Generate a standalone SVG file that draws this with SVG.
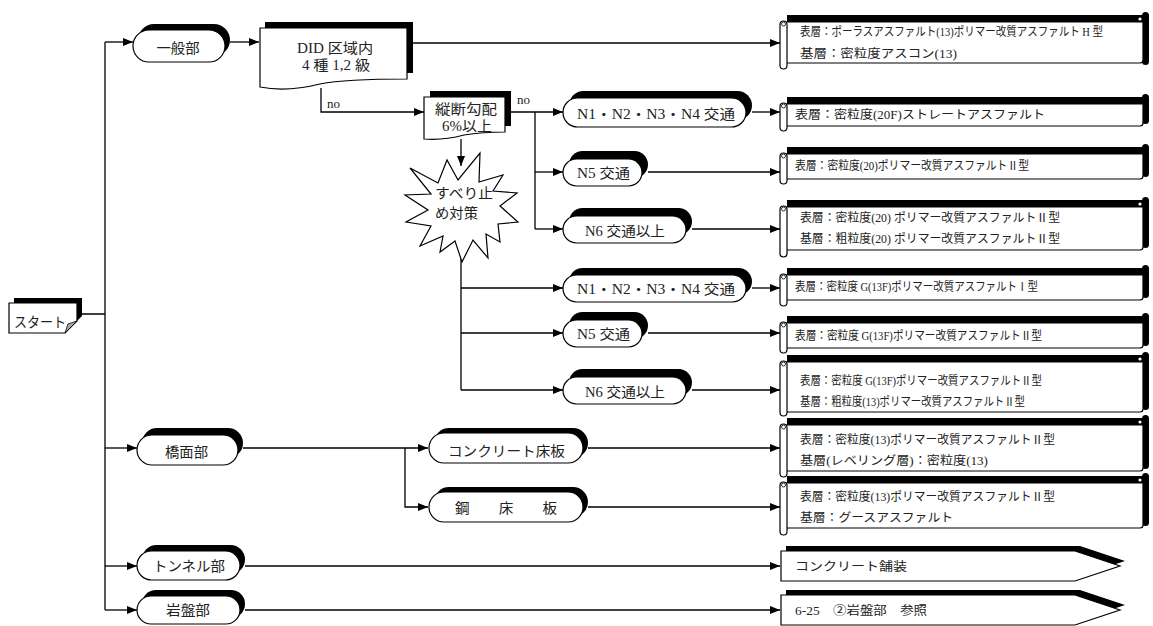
<svg xmlns="http://www.w3.org/2000/svg" width="1153" height="626" viewBox="0 0 1153 626">
<style>
.t{font-family:"Liberation Serif","Noto Sans CJK JP",serif;fill:#222}
.s12{font-size:12px}
.s13{font-size:13px}
.s14{font-size:14px}
.c{text-anchor:middle}
.ln{stroke:#000;stroke-width:1.3;fill:none}
.ar{marker-end:url(#ah)}
.sh{fill:#000}
.fr{fill:#fff;stroke:#000;stroke-width:1.2}
.cu{fill:none;stroke:#000;stroke-width:0.8}
</style>
<defs>
<marker id="ah" markerUnits="userSpaceOnUse" viewBox="0 0 10 8" markerWidth="10" markerHeight="8" refX="10" refY="4" orient="auto"><path d="M0,0 L10,4 L0,8 Z" fill="#000"/></marker>
</defs>
<rect width="1153" height="626" fill="#fff"/>

<g id="connectors">
<path class="ln" d="M82,314 H105 M105,42 V610"/>
<path class="ln ar" d="M105,42 H133"/>
<path class="ln ar" d="M105,448 H137"/>
<path class="ln ar" d="M105,566 H137"/>
<path class="ln ar" d="M105,610 H137"/>
<path class="ln ar" d="M230,42 H259"/>
<path class="ln ar" d="M412,43 H780"/>
<path class="ln ar" d="M321,88 V112 H424"/>
<path class="ln ar" d="M510,112 H563"/>
<path class="ln" d="M535,112 V229"/>
<path class="ln ar" d="M535,172 H563"/>
<path class="ln ar" d="M535,229 H563"/>
<path class="ln ar" d="M461,139 V166"/>
<path class="ln" d="M461,252 V390"/>
<path class="ln ar" d="M461,288 H563"/>
<path class="ln ar" d="M461,333 H563"/>
<path class="ln ar" d="M461,390 H563"/>
<path class="ln ar" d="M752,112 H780"/>
<path class="ln ar" d="M648,172 H780"/>
<path class="ln ar" d="M692,229 H780"/>
<path class="ln ar" d="M752,288 H780"/>
<path class="ln ar" d="M648,333 H780"/>
<path class="ln ar" d="M692,390 H780"/>
<path class="ln ar" d="M243,448 H428"/>
<path class="ln ar" d="M405,448 V507 H428"/>
<path class="ln ar" d="M588,448 H780"/>
<path class="ln ar" d="M588,507 H780"/>
<path class="ln ar" d="M245,566 H780"/>
<path class="ln ar" d="M245,610 H780"/>
<text class="t s13" x="327" y="108">no</text>
<text class="t s13" x="517" y="104">no</text>
</g>

<g id="start">
<path class="sh" d="M14,298 H82 V316 L70,328 H14 Z"/>
<path class="fr" d="M9,303 H77 V321 L65,333 H9 Z"/>
<path d="M77,321 L65,333 L68,324 Z" fill="#aaa" stroke="#000" stroke-width="0.8"/>
<text class="t s14" x="14" y="327" textLength="52" lengthAdjust="spacingAndGlyphs">スタート</text>
</g>

<g id="ippanbu">
<rect class="sh" x="138" y="24" width="92" height="32" rx="16"/>
<rect class="fr" x="133" y="30" width="92" height="32" rx="16"/>
<text class="t s14 c" x="178" y="53" textLength="43" lengthAdjust="spacingAndGlyphs">一般部</text>
</g>

<g id="did">
<path class="sh" d="M265,22 H413 V73 C375,73 345,74 325,78 C305,83 285,85 265,81 Z"/>
<path class="fr" d="M260,28 H407 V79 C370,79 340,80 320,84 C300,89 280,91 260,87 Z"/>
<text class="t s14 c" x="335" y="53" textLength="76" lengthAdjust="spacingAndGlyphs">DID 区域内</text>
<text class="t s14 c" x="336" y="70" textLength="68" lengthAdjust="spacingAndGlyphs">4 種 1,2 級</text>
</g>

<g id="jyudan">
<path class="sh" d="M430,91 H511 V126 C495,126 482,127 470,129 C455,133 442,134 430,133 Z"/>
<path class="fr" d="M424,97 H505 V132 C489,132 476,133 464,135 C449,139 436,140 424,139 Z"/>
<text class="t s14 c" x="466" y="114" textLength="62" lengthAdjust="spacingAndGlyphs">縦断勾配</text>
<text class="t s14 c" x="467" y="131" textLength="50" lengthAdjust="spacingAndGlyphs">6%以上</text>
</g>

<g id="star">
<path class="fr" d="M410,168 L438,183 L447,160 L458,180 L480,153 L479,182 L503,175 L493,191 L517,193 L500,206 L518,222 L498,224 L500,242 L486,234 L488,258 L473,240 L462,262 L455,241 L440,252 L443,236 L420,246 L431,226 L406,222 L428,210 L405,195 L431,194 Z"/>
<text class="t s14 c" x="464" y="198" textLength="58" lengthAdjust="spacingAndGlyphs">すべり止</text>
<text class="t s14 c" x="456.5" y="218" textLength="43" lengthAdjust="spacingAndGlyphs">め対策</text>
</g>

<g id="n14a">
<rect class="sh" x="569" y="91" width="183" height="29" rx="14.5"/>
<rect class="fr" x="563" y="98" width="183" height="29" rx="14.5"/>
<text class="t s14 c" x="656" y="119" textLength="158" lengthAdjust="spacingAndGlyphs">N1・N2・N3・N4 交通</text>
</g>
<g id="n5a">
<rect class="sh" x="569" y="151" width="79" height="27" rx="13.5"/>
<rect class="fr" x="563" y="159" width="79" height="27" rx="13.5"/>
<text class="t s14 c" x="603.5" y="178" textLength="53" lengthAdjust="spacingAndGlyphs">N5 交通</text>
</g>
<g id="n6a">
<rect class="sh" x="569" y="208" width="123" height="27" rx="13.5"/>
<rect class="fr" x="563" y="216" width="123" height="27" rx="13.5"/>
<text class="t s14 c" x="625" y="236" textLength="80" lengthAdjust="spacingAndGlyphs">N6 交通以上</text>
</g>
<g id="n14b">
<rect class="sh" x="569" y="268" width="183" height="27" rx="13.5"/>
<rect class="fr" x="563" y="275" width="183" height="27" rx="13.5"/>
<text class="t s14 c" x="656" y="294" textLength="158" lengthAdjust="spacingAndGlyphs">N1・N2・N3・N4 交通</text>
</g>
<g id="n5b">
<rect class="sh" x="569" y="312" width="79" height="27" rx="13.5"/>
<rect class="fr" x="563" y="320" width="79" height="27" rx="13.5"/>
<text class="t s14 c" x="603.5" y="339" textLength="53" lengthAdjust="spacingAndGlyphs">N5 交通</text>
</g>
<g id="n6b">
<rect class="sh" x="569" y="369" width="123" height="27" rx="13.5"/>
<rect class="fr" x="563" y="377" width="123" height="27" rx="13.5"/>
<text class="t s14 c" x="625" y="397" textLength="80" lengthAdjust="spacingAndGlyphs">N6 交通以上</text>
</g>

<g id="kyomenbu">
<rect class="sh" x="142" y="428" width="101" height="30" rx="15"/>
<rect class="fr" x="137" y="435" width="101" height="30" rx="15"/>
<text class="t s14 c" x="186.5" y="457" textLength="43" lengthAdjust="spacingAndGlyphs">橋面部</text>
</g>
<g id="concslab">
<rect class="sh" x="434" y="428" width="154" height="30" rx="15"/>
<rect class="fr" x="429" y="433" width="154" height="30" rx="15"/>
<text class="t s14 c" x="506.5" y="456" textLength="117" lengthAdjust="spacingAndGlyphs">コンクリート床板</text>
</g>
<g id="steelslab">
<rect class="sh" x="434" y="487" width="154" height="30" rx="15"/>
<rect class="fr" x="429" y="492" width="154" height="30" rx="15"/>
<text class="t s14 c" x="506" y="513" textLength="102" lengthAdjust="spacingAndGlyphs">鋼　　床　　板</text>
</g>
<g id="tunnelbu">
<rect class="sh" x="142" y="545" width="103" height="29" rx="14.5"/>
<rect class="fr" x="137" y="551" width="103" height="29" rx="14.5"/>
<text class="t s14 c" x="189" y="571" textLength="72" lengthAdjust="spacingAndGlyphs">トンネル部</text>
</g>
<g id="ganbanbu">
<rect class="sh" x="142" y="590" width="103" height="28" rx="14"/>
<rect class="fr" x="137" y="596" width="103" height="28" rx="14"/>
<text class="t s14 c" x="188" y="615" textLength="44" lengthAdjust="spacingAndGlyphs">岩盤部</text>
</g>

<g id="scroll1">
<path class="sh" d="M787,15 H1143 V22 H787 Z"/>
<rect class="sh" x="1142" y="12" width="7" height="53" rx="3.5"/>
<path class="fr" d="M786,22 H1143 V60 Q1143,63 1140,63 H786 Z"/>
<rect class="fr" x="780" y="21" width="7" height="48" rx="3.5"/>
<circle class="cu" cx="783.5" cy="24" r="2"/>
<circle cx="1140" cy="19" r="1.6" fill="#fff"/>
<text class="t s12" x="800" y="36" textLength="303" lengthAdjust="spacingAndGlyphs">表層：ポーラスアスファルト(13)ポリマー改質アスファルト H 型</text>
<text class="t s12" x="800" y="58" textLength="157" lengthAdjust="spacingAndGlyphs">基層：密粒度アスコン(13)</text>
</g>
<g id="scroll2">
<path class="sh" d="M787,97 H1143 V104 H787 Z"/>
<rect class="sh" x="1142" y="94" width="7" height="30" rx="3.5"/>
<path class="fr" d="M786,104 H1143 V123 Q1143,126 1140,126 H786 Z"/>
<rect class="fr" x="780" y="103" width="7" height="28" rx="3.5"/>
<circle class="cu" cx="783.5" cy="106" r="2"/>
<text class="t s12" x="795" y="119" textLength="250" lengthAdjust="spacingAndGlyphs">表層：密粒度(20F)ストレートアスファルト</text>
</g>
<g id="scroll3">
<path class="sh" d="M787,147 H1143 V154 H787 Z"/>
<rect class="sh" x="1142" y="144" width="7" height="33" rx="3.5"/>
<path class="fr" d="M786,154 H1143 V176 Q1143,179 1140,179 H786 Z"/>
<rect class="fr" x="780" y="153" width="7" height="31" rx="3.5"/>
<circle class="cu" cx="783.5" cy="156" r="2"/>
<text class="t s12" x="795" y="170" textLength="234" lengthAdjust="spacingAndGlyphs">表層：密粒度(20)ポリマー改質アスファルトⅡ型</text>
</g>
<g id="scroll4">
<path class="sh" d="M787,200 H1143 V207 H787 Z"/>
<rect class="sh" x="1142" y="197" width="7" height="51" rx="3.5"/>
<path class="fr" d="M786,207 H1143 V247 Q1143,250 1140,250 H786 Z"/>
<rect class="fr" x="780" y="206" width="7" height="51" rx="3.5"/>
<circle class="cu" cx="783.5" cy="209" r="2"/>
<circle cx="1140" cy="204" r="1.6" fill="#fff"/>
<text class="t s12" x="800" y="222" textLength="260" lengthAdjust="spacingAndGlyphs">表層：密粒度(20) ポリマー改質アスファルトⅡ型</text>
<text class="t s12" x="800" y="243" textLength="260" lengthAdjust="spacingAndGlyphs">基層：粗粒度(20) ポリマー改質アスファルトⅡ型</text>
</g>
<g id="scroll5">
<path class="sh" d="M787,268 H1143 V275 H787 Z"/>
<rect class="sh" x="1142" y="265" width="7" height="33" rx="3.5"/>
<path class="fr" d="M786,275 H1143 V297 Q1143,300 1140,300 H786 Z"/>
<rect class="fr" x="780" y="274" width="7" height="32" rx="3.5"/>
<circle class="cu" cx="783.5" cy="277" r="2"/>
<text class="t s12" x="795" y="291" textLength="243" lengthAdjust="spacingAndGlyphs">表層：密粒度 G(13F)ポリマー改質アスファルトⅠ型</text>
</g>
<g id="scroll6">
<path class="sh" d="M787,316 H1143 V323 H787 Z"/>
<rect class="sh" x="1142" y="313" width="7" height="33" rx="3.5"/>
<path class="fr" d="M786,323 H1143 V345 Q1143,348 1140,348 H786 Z"/>
<rect class="fr" x="780" y="322" width="7" height="31" rx="3.5"/>
<circle class="cu" cx="783.5" cy="325" r="2"/>
<text class="t s12" x="795" y="340" textLength="247" lengthAdjust="spacingAndGlyphs">表層：密粒度 G(13F)ポリマー改質アスファルトⅡ型</text>
</g>
<g id="scroll7">
<path class="sh" d="M787,355 H1143 V362 H787 Z"/>
<rect class="sh" x="1142" y="352" width="7" height="58" rx="3.5"/>
<path class="fr" d="M786,362 H1143 V409 Q1143,412 1140,412 H786 Z"/>
<rect class="fr" x="780" y="361" width="7" height="55" rx="3.5"/>
<circle class="cu" cx="783.5" cy="364" r="2"/>
<circle cx="1140" cy="359" r="1.6" fill="#fff"/>
<text class="t s12" x="800" y="385" textLength="242" lengthAdjust="spacingAndGlyphs">表層：密粒度 G(13F)ポリマー改質アスファルトⅡ型</text>
<text class="t s12" x="800" y="406" textLength="225" lengthAdjust="spacingAndGlyphs">基層：粗粒度(13)ポリマー改質アスファルトⅡ型</text>
</g>
<g id="scroll8">
<path class="sh" d="M787,418 H1143 V425 H787 Z"/>
<rect class="sh" x="1142" y="415" width="7" height="54" rx="3.5"/>
<path class="fr" d="M786,425 H1143 V468 Q1143,471 1140,471 H786 Z"/>
<rect class="fr" x="780" y="424" width="7" height="53" rx="3.5"/>
<circle class="cu" cx="783.5" cy="427" r="2"/>
<circle cx="1140" cy="422" r="1.6" fill="#fff"/>
<text class="t s12" x="800" y="444" textLength="255" lengthAdjust="spacingAndGlyphs">表層：密粒度(13)ポリマー改質アスファルトⅡ型</text>
<text class="t s12" x="800" y="465" textLength="188" lengthAdjust="spacingAndGlyphs">基層(レベリング層)：密粒度(13)</text>
</g>
<g id="scroll9">
<path class="sh" d="M787,476 H1143 V483 H787 Z"/>
<rect class="sh" x="1142" y="473" width="7" height="53" rx="3.5"/>
<path class="fr" d="M786,483 H1143 V525 Q1143,528 1140,528 H786 Z"/>
<rect class="fr" x="780" y="482" width="7" height="53" rx="3.5"/>
<circle class="cu" cx="783.5" cy="485" r="2"/>
<circle cx="1140" cy="480" r="1.6" fill="#fff"/>
<text class="t s12" x="800" y="501" textLength="255" lengthAdjust="spacingAndGlyphs">表層：密粒度(13)ポリマー改質アスファルトⅡ型</text>
<text class="t s12" x="800" y="522" textLength="153" lengthAdjust="spacingAndGlyphs">基層：グースアスファルト</text>
</g>

<g id="concpave">
<path class="sh" d="M786,546 H1080 L1125,561 L1080,576 H786 Z"/>
<path class="fr" d="M781,551 H1075 L1120,566 L1075,581 H781 Z"/>
<text class="t s12" x="795" y="571" textLength="112" lengthAdjust="spacingAndGlyphs">コンクリート舗装</text>
</g>
<g id="ref625">
<path class="sh" d="M786,590 H1080 L1125,605 L1080,620 H786 Z"/>
<path class="fr" d="M781,595 H1075 L1120,610 L1075,625 H781 Z"/>
<text class="t s12" x="795" y="615" textLength="132" lengthAdjust="spacingAndGlyphs">6-25　②岩盤部　参照</text>
</g>
</svg>
